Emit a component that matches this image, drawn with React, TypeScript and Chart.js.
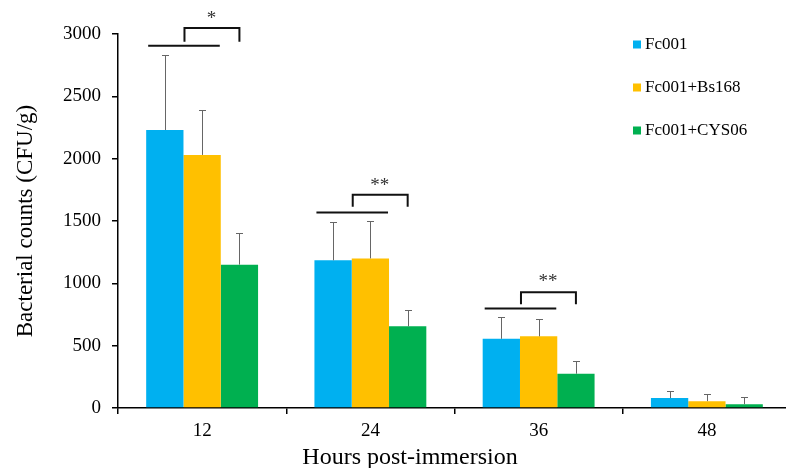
import React, { useEffect, useRef } from "react";
import { Chart, registerables } from "chart.js";

Chart.register(...registerables);

const categories = ["12", "24", "36", "48"];
const seriesNames = ["Fc001", "Fc001+Bs168", "Fc001+CYS06"];
const seriesColors = ["#00B0F0", "#FFC000", "#00B050"];
const fc001 = [2230, 1185, 555, 80];
const fc001Bs168 = [2030, 1200, 575, 55];
const fc001Cys06 = [1150, 655, 275, 30];
const fc001Err = [605, 305, 175, 55];
const fc001Bs168Err = [360, 300, 135, 55];
const fc001Cys06Err = [250, 135, 100, 55];
const yTicks = [0, 500, 1000, 1500, 2000, 2500, 3000];
const xTitle = "Hours post-immersion";
const yTitle = "Bacterial counts (CFU/g)";

// significance annotations (category index, label, values in data units)
const sigGroups = [0, 1, 2];
const sigLabels = ["*", "**", "**"];
const sigLineY = [2905, 1569, 798];
const sigBracketTop = [3048, 1710, 929];
const sigBracketBottom = [2938, 1614, 832];
const sigTextY = [3150, 1814, 1041];

const FONT = "'Liberation Serif', 'Times New Roman', serif";

export default function App() {
  const ref = useRef<HTMLCanvasElement | null>(null);

  useEffect(() => {
    if (!ref.current) return;
    const values = [fc001, fc001Bs168, fc001Cys06];
    const errs = [fc001Err, fc001Bs168Err, fc001Cys06Err];

    const extras = {
      id: "extras",
      afterDatasetsDraw(chart: any) {
        const ctx = chart.ctx;
        const ys = chart.scales.y;
        ctx.save();
        // error bars
        ctx.strokeStyle = "#666666";
        ctx.lineWidth = 1;
        values.forEach((vals, di) => {
          const meta = chart.getDatasetMeta(di);
          meta.data.forEach((bar: any, i: number) => {
            const x = Math.round(bar.x) + 0.5;
            const y0 = ys.getPixelForValue(vals[i]);
            const y1 = Math.round(ys.getPixelForValue(vals[i] + errs[di][i])) + 0.5;
            ctx.beginPath();
            ctx.moveTo(x, y0);
            ctx.lineTo(x, y1);
            ctx.moveTo(x - 3.5, y1);
            ctx.lineTo(x + 3.5, y1);
            ctx.stroke();
          });
        });
        // significance marks
        ctx.strokeStyle = "#111";
        ctx.lineWidth = 2;
        sigGroups.forEach((g, k) => {
          const b0: any = chart.getDatasetMeta(0).data[g];
          const b1: any = chart.getDatasetMeta(1).data[g];
          const b2: any = chart.getDatasetMeta(2).data[g];
          const blueLeft = b0.x - b0.width / 2;
          const yellowRight = b1.x + b1.width / 2;
          const mid = b0.x + b0.width / 2;
          const greenC = b2.x;
          const yl = ys.getPixelForValue(sigLineY[k]);
          ctx.beginPath();
          ctx.moveTo(blueLeft + 2, yl);
          ctx.lineTo(yellowRight - 1, yl);
          ctx.stroke();
          const yt = ys.getPixelForValue(sigBracketTop[k]);
          const yb = ys.getPixelForValue(sigBracketBottom[k]);
          ctx.beginPath();
          ctx.moveTo(mid + 1, yb);
          ctx.lineTo(mid + 1, yt);
          ctx.lineTo(greenC, yt);
          ctx.lineTo(greenC, yb);
          ctx.stroke();
          ctx.fillStyle = "#333";
          ctx.font = `19px ${FONT}`;
          ctx.textAlign = "center";
          ctx.textBaseline = "middle";
          ctx.fillText(sigLabels[k], (mid + greenC) / 2, ys.getPixelForValue(sigTextY[k]) + 4);
        });
        // legend
        ctx.font = `17px ${FONT}`;
        ctx.textAlign = "left";
        ctx.textBaseline = "middle";
        seriesNames.forEach((name, i) => {
          const cy = 44.5 + i * 43;
          ctx.fillStyle = seriesColors[i];
          ctx.fillRect(633, cy - 4, 8, 8);
          ctx.fillStyle = "#000";
          ctx.fillText(name, 645, cy);
        });
        // x axis title
        ctx.fillStyle = "#000";
        ctx.font = `24px ${FONT}`;
        ctx.textAlign = "center";
        ctx.textBaseline = "alphabetic";
        ctx.fillText(xTitle, 410, 464);
        ctx.restore();
      },
    };

    const chart = new Chart(ref.current, {
      type: "bar",
      data: {
        labels: categories,
        datasets: seriesNames.map((name, i) => ({
          label: name,
          data: values[i],
          backgroundColor: seriesColors[i],
          borderWidth: 0,
          barPercentage: 1,
          categoryPercentage: 0.665,
        })),
      },
      options: {
        responsive: false,
        animation: false,
        layout: { padding: { top: 34, right: 9, left: 0, bottom: 0 } },
        plugins: { legend: { display: false }, tooltip: { enabled: false } },
        scales: {
          x: {
            type: "category",
            offset: true,
            grid: {
              display: true,
              drawOnChartArea: false,
              offset: true,
              tickLength: 6,
              color: "#000",
              lineWidth: 1.5,
            },
            border: { display: true, color: "#000", width: 1.5 },
            ticks: { color: "#000", font: { family: FONT, size: 19 }, padding: 6 },
            title: { display: false },
            afterFit(scale: any) {
              scale.height = 60;
            },
          },
          y: {
            min: 0,
            max: 3000,
            afterBuildTicks(scale: any) {
              scale.ticks = yTicks.map((v) => ({ value: v }));
            },
            grid: {
              display: true,
              drawOnChartArea: false,
              tickLength: 6,
              color: "#000",
              lineWidth: 1.5,
            },
            border: { display: true, color: "#000", width: 1.5 },
            ticks: {
              color: "#000",
              font: { family: FONT, size: 19 },
              padding: 11,
              callback: (v: any) => String(v),
            },
            title: {
              display: true,
              text: yTitle,
              color: "#000",
              font: { family: FONT, size: 23 },
              padding: { top: 12, bottom: 0 },
            },
            afterFit(scale: any) {
              scale.width = 118;
            },
          },
        },
      },
      plugins: [extras],
    });
    return () => chart.destroy();
  }, []);

  return (
    <div
      style={{
        position: "fixed",
        left: 0,
        top: 0,
        width: 786,
        height: 468,
        overflow: "hidden",
        background: "#fff",
      }}
    >
      <canvas ref={ref} width={800} height={468} style={{ display: "block" }} />
    </div>
  );
}
